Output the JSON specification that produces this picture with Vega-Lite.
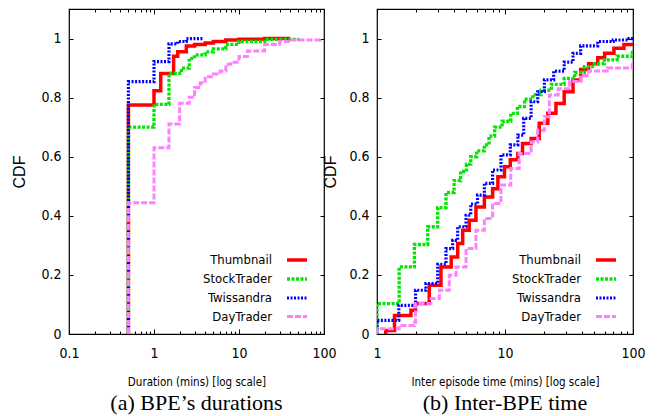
{
  "$schema": "https://vega.github.io/schema/vega-lite/v6.json",
  "background": "white",
  "padding": {"left": 11, "top": 7, "right": 5, "bottom": 2},
  "config": {
    "view": {"stroke": "black", "strokeWidth": 1.2},
    "axis": {"grid": false, "domain": false, "labelFont": "DejaVu Sans Condensed, Liberation Sans", "labelFontSize": 14, "labelColor": "black", "tickColor": "black", "tickWidth": 1, "titleFont": "DejaVu Sans Condensed, Liberation Sans", "titleFontSize": 11.5, "titleFontWeight": "normal", "titleColor": "black", "labelOverlap": false, "labelFlush": false},
    "axisY": {"minExtent": 0},
    "legend": {"orient": "bottom-right", "offset": 10, "padding": 0, "labelFont": "DejaVu Sans Condensed, Liberation Sans", "labelFontSize": 13, "labelColor": "black", "symbolType": "M-1,0H1", "symbolSize": 400, "labelAlign": "right", "labelOffset": -37, "rowPadding": 0},
    "title": {"font": "Liberation Serif", "fontSize": 22, "fontWeight": "normal", "color": "black", "orient": "bottom", "anchor": "middle", "offset": 5}
  },
  "datasets": {
    "a": [
      {"series": "Thumbnail", "x": 0.5, "y": 0}, {"series": "Thumbnail", "x": 0.5, "y": 0.775}, {"series": "Thumbnail", "x": 1, "y": 0.823}, {"series": "Thumbnail", "x": 1.2, "y": 0.882}, {"series": "Thumbnail", "x": 1.7, "y": 0.94}, {"series": "Thumbnail", "x": 1.9, "y": 0.955}, {"series": "Thumbnail", "x": 2.4, "y": 0.975}, {"series": "Thumbnail", "x": 3, "y": 0.98}, {"series": "Thumbnail", "x": 4, "y": 0.985}, {"series": "Thumbnail", "x": 5, "y": 0.99}, {"series": "Thumbnail", "x": 7, "y": 0.995}, {"series": "Thumbnail", "x": 10, "y": 0.998}, {"series": "Thumbnail", "x": 20, "y": 1.0}, {"series": "Thumbnail", "x": 40, "y": 1.0},
      {"series": "StockTrader", "x": 0.5, "y": 0}, {"series": "StockTrader", "x": 0.5, "y": 0.70}, {"series": "StockTrader", "x": 1, "y": 0.777}, {"series": "StockTrader", "x": 1.5, "y": 0.882}, {"series": "StockTrader", "x": 2.1, "y": 0.9}, {"series": "StockTrader", "x": 2.6, "y": 0.933}, {"series": "StockTrader", "x": 3, "y": 0.945}, {"series": "StockTrader", "x": 4, "y": 0.955}, {"series": "StockTrader", "x": 5, "y": 0.965}, {"series": "StockTrader", "x": 7, "y": 0.98}, {"series": "StockTrader", "x": 10, "y": 0.99}, {"series": "StockTrader", "x": 20, "y": 0.997}, {"series": "StockTrader", "x": 50, "y": 1.0},
      {"series": "Twissandra", "x": 0.5, "y": 0}, {"series": "Twissandra", "x": 0.5, "y": 0.854}, {"series": "Twissandra", "x": 1, "y": 0.922}, {"series": "Twissandra", "x": 1.5, "y": 0.982}, {"series": "Twissandra", "x": 1.9, "y": 0.99}, {"series": "Twissandra", "x": 2.4, "y": 1.0}, {"series": "Twissandra", "x": 3.8, "y": 1.0},
      {"series": "DayTrader", "x": 0.5, "y": 0}, {"series": "DayTrader", "x": 0.5, "y": 0.444}, {"series": "DayTrader", "x": 1, "y": 0.63}, {"series": "DayTrader", "x": 1.5, "y": 0.711}, {"series": "DayTrader", "x": 2, "y": 0.781}, {"series": "DayTrader", "x": 2.6, "y": 0.801}, {"series": "DayTrader", "x": 3, "y": 0.834}, {"series": "DayTrader", "x": 3.5, "y": 0.85}, {"series": "DayTrader", "x": 4, "y": 0.871}, {"series": "DayTrader", "x": 5, "y": 0.88}, {"series": "DayTrader", "x": 6, "y": 0.89}, {"series": "DayTrader", "x": 7, "y": 0.913}, {"series": "DayTrader", "x": 8, "y": 0.92}, {"series": "DayTrader", "x": 10, "y": 0.939}, {"series": "DayTrader", "x": 12.6, "y": 0.958}, {"series": "DayTrader", "x": 20, "y": 0.98}, {"series": "DayTrader", "x": 30, "y": 0.99}, {"series": "DayTrader", "x": 40, "y": 0.995}, {"series": "DayTrader", "x": 90, "y": 1.0}
    ],
    "b": [
      {"series": "Thumbnail", "x": 1.17, "y": 0.0}, {"series": "Thumbnail", "x": 1.17, "y": 0.012}, {"series": "Thumbnail", "x": 1.37, "y": 0.063}, {"series": "Thumbnail", "x": 1.84, "y": 0.08}, {"series": "Thumbnail", "x": 2.0, "y": 0.103}, {"series": "Thumbnail", "x": 2.56, "y": 0.165}, {"series": "Thumbnail", "x": 3.16, "y": 0.227}, {"series": "Thumbnail", "x": 3.8, "y": 0.261}, {"series": "Thumbnail", "x": 4.27, "y": 0.306}, {"series": "Thumbnail", "x": 4.67, "y": 0.351}, {"series": "Thumbnail", "x": 5.26, "y": 0.385}, {"series": "Thumbnail", "x": 5.93, "y": 0.43}, {"series": "Thumbnail", "x": 6.9, "y": 0.464}, {"series": "Thumbnail", "x": 8.0, "y": 0.492}, {"series": "Thumbnail", "x": 8.8, "y": 0.532}, {"series": "Thumbnail", "x": 9.9, "y": 0.566}, {"series": "Thumbnail", "x": 11, "y": 0.59}, {"series": "Thumbnail", "x": 12.6, "y": 0.611}, {"series": "Thumbnail", "x": 13.7, "y": 0.645}, {"series": "Thumbnail", "x": 16, "y": 0.662}, {"series": "Thumbnail", "x": 18.5, "y": 0.713}, {"series": "Thumbnail", "x": 21.6, "y": 0.747}, {"series": "Thumbnail", "x": 25, "y": 0.78}, {"series": "Thumbnail", "x": 29, "y": 0.82}, {"series": "Thumbnail", "x": 34, "y": 0.86}, {"series": "Thumbnail", "x": 39, "y": 0.895}, {"series": "Thumbnail", "x": 45, "y": 0.915}, {"series": "Thumbnail", "x": 53, "y": 0.935}, {"series": "Thumbnail", "x": 60, "y": 0.95}, {"series": "Thumbnail", "x": 71, "y": 0.967}, {"series": "Thumbnail", "x": 85, "y": 0.98}, {"series": "Thumbnail", "x": 100, "y": 0.982},
      {"series": "StockTrader", "x": 1, "y": 0}, {"series": "StockTrader", "x": 1, "y": 0.103}, {"series": "StockTrader", "x": 1.49, "y": 0.227}, {"series": "StockTrader", "x": 1.96, "y": 0.303}, {"series": "StockTrader", "x": 2.49, "y": 0.363}, {"series": "StockTrader", "x": 2.98, "y": 0.428}, {"series": "StockTrader", "x": 3.46, "y": 0.479}, {"series": "StockTrader", "x": 4.0, "y": 0.519}, {"series": "StockTrader", "x": 4.5, "y": 0.55}, {"series": "StockTrader", "x": 5.0, "y": 0.575}, {"series": "StockTrader", "x": 5.4, "y": 0.6}, {"series": "StockTrader", "x": 6.0, "y": 0.62}, {"series": "StockTrader", "x": 6.9, "y": 0.64}, {"series": "StockTrader", "x": 7.5, "y": 0.67}, {"series": "StockTrader", "x": 8.3, "y": 0.7}, {"series": "StockTrader", "x": 9.5, "y": 0.72}, {"series": "StockTrader", "x": 11.1, "y": 0.747}, {"series": "StockTrader", "x": 12.5, "y": 0.77}, {"series": "StockTrader", "x": 14.2, "y": 0.795}, {"series": "StockTrader", "x": 16.5, "y": 0.81}, {"series": "StockTrader", "x": 19.1, "y": 0.825}, {"series": "StockTrader", "x": 23, "y": 0.845}, {"series": "StockTrader", "x": 29, "y": 0.865}, {"series": "StockTrader", "x": 35, "y": 0.885}, {"series": "StockTrader", "x": 41.7, "y": 0.905}, {"series": "StockTrader", "x": 50, "y": 0.915}, {"series": "StockTrader", "x": 59.7, "y": 0.928}, {"series": "StockTrader", "x": 75, "y": 0.94}, {"series": "StockTrader", "x": 99, "y": 0.952}, {"series": "StockTrader", "x": 100, "y": 0.952},
      {"series": "Twissandra", "x": 1, "y": 0}, {"series": "Twissandra", "x": 1, "y": 0.046}, {"series": "Twissandra", "x": 1.48, "y": 0.097}, {"series": "Twissandra", "x": 2.0, "y": 0.148}, {"series": "Twissandra", "x": 2.41, "y": 0.171}, {"series": "Twissandra", "x": 2.98, "y": 0.236}, {"series": "Twissandra", "x": 3.46, "y": 0.289}, {"series": "Twissandra", "x": 3.9, "y": 0.317}, {"series": "Twissandra", "x": 4.27, "y": 0.363}, {"series": "Twissandra", "x": 4.96, "y": 0.402}, {"series": "Twissandra", "x": 5.4, "y": 0.44}, {"series": "Twissandra", "x": 6.1, "y": 0.47}, {"series": "Twissandra", "x": 6.9, "y": 0.51}, {"series": "Twissandra", "x": 8.0, "y": 0.555}, {"series": "Twissandra", "x": 9.3, "y": 0.606}, {"series": "Twissandra", "x": 11, "y": 0.64}, {"series": "Twissandra", "x": 12.6, "y": 0.673}, {"series": "Twissandra", "x": 14, "y": 0.73}, {"series": "Twissandra", "x": 16, "y": 0.786}, {"series": "Twissandra", "x": 18, "y": 0.82}, {"series": "Twissandra", "x": 20.3, "y": 0.86}, {"series": "Twissandra", "x": 24, "y": 0.89}, {"series": "Twissandra", "x": 29, "y": 0.92}, {"series": "Twissandra", "x": 34, "y": 0.95}, {"series": "Twissandra", "x": 39, "y": 0.975}, {"series": "Twissandra", "x": 53, "y": 0.99}, {"series": "Twissandra", "x": 70, "y": 0.995}, {"series": "Twissandra", "x": 93, "y": 1.0}, {"series": "Twissandra", "x": 100, "y": 1.0},
      {"series": "DayTrader", "x": 1, "y": 0}, {"series": "DayTrader", "x": 1, "y": 0.018}, {"series": "DayTrader", "x": 1.49, "y": 0.029}, {"series": "DayTrader", "x": 1.96, "y": 0.04}, {"series": "DayTrader", "x": 2.0, "y": 0.103}, {"series": "DayTrader", "x": 2.64, "y": 0.12}, {"series": "DayTrader", "x": 3.07, "y": 0.148}, {"series": "DayTrader", "x": 3.67, "y": 0.199}, {"series": "DayTrader", "x": 4.14, "y": 0.227}, {"series": "DayTrader", "x": 4.96, "y": 0.289}, {"series": "DayTrader", "x": 5.93, "y": 0.351}, {"series": "DayTrader", "x": 6.9, "y": 0.391}, {"series": "DayTrader", "x": 8.0, "y": 0.442}, {"series": "DayTrader", "x": 9.3, "y": 0.504}, {"series": "DayTrader", "x": 11.1, "y": 0.56}, {"series": "DayTrader", "x": 12.9, "y": 0.611}, {"series": "DayTrader", "x": 16, "y": 0.65}, {"series": "DayTrader", "x": 18, "y": 0.69}, {"series": "DayTrader", "x": 20.3, "y": 0.735}, {"series": "DayTrader", "x": 22.2, "y": 0.809}, {"series": "DayTrader", "x": 26, "y": 0.83}, {"series": "DayTrader", "x": 32, "y": 0.855}, {"series": "DayTrader", "x": 39, "y": 0.875}, {"series": "DayTrader", "x": 45, "y": 0.89}, {"series": "DayTrader", "x": 63, "y": 0.9}, {"series": "DayTrader", "x": 99, "y": 0.911}, {"series": "DayTrader", "x": 100, "y": 0.911}
    ]
  },
  "spacing": 53,
  "bounds": "flush",
  "hconcat": [
    {
      "width": 255, "height": 325,
      "data": {"name": "a"},
      "title": {"text": "(a)  BPE’s durations"},
      "layer": [
        {
          "mark": {"type": "line", "interpolate": "step-after", "clip": true},
          "encoding": {
            "x": {"field": "x", "type": "quantitative", "scale": {"type": "log", "domain": [0.1, 100], "nice": false},
              "axis": {"title": "Duration (mins) [log scale]", "values": [0.1,0.2,0.3,0.4,0.5,0.6,0.7,0.8,0.9,1,2,3,4,5,6,7,8,9,10,20,30,40,50,60,70,80,90,100],
                "labelExpr": "indexof([0.1,1,10,100], datum.value) >= 0 ? datum.value : ''",
                "tickSize": {"condition": {"test": "indexof([0.1,1,10,100], datum.value) >= 0", "value": -5}, "value": -3},
                "labelPadding": 17, "titlePadding": 14}},
            "y": {"field": "y", "type": "quantitative", "scale": {"domain": [0, 1.1], "nice": false},
              "axis": {"title": "CDF", "titleFont": "Liberation Sans", "titleFontSize": 16, "values": [0,0.2,0.4,0.6,0.8,1], "labelExpr": "format(datum.value, '~g')", "tickSize": -4, "labelPadding": 12, "titlePadding": 13}},
            "color": {"field": "series", "type": "nominal", "title": null, "scale": {"domain": ["Thumbnail","StockTrader","Twissandra","DayTrader"], "range": ["#ff0000","#00e600","#0000ff","#ff80ff"]}},
            "strokeDash": {"field": "series", "type": "nominal", "title": null, "scale": {"domain": ["Thumbnail","StockTrader","Twissandra","DayTrader"], "range": [[1,0],[3,1.5],[2,1.5],[6,2]]}},
            "strokeWidth": {"field": "series", "type": "nominal", "title": null, "scale": {"domain": ["Thumbnail","StockTrader","Twissandra","DayTrader"], "range": [3.5,3,2,3.5]}},
            "order": {"field": "y", "type": "quantitative"}
          }
        },
        {
          "mark": {"type": "line", "opacity": 0},
          "encoding": {
            "x": {"field": "x", "type": "quantitative", "axis": {"orient": "top", "title": null, "labels": false, "values": [0.1,0.2,0.3,0.4,0.5,0.6,0.7,0.8,0.9,1,2,3,4,5,6,7,8,9,10,20,30,40,50,60,70,80,90,100],
                "tickSize": {"condition": {"test": "indexof([0.1,1,10,100], datum.value) >= 0", "value": -5}, "value": -3}}},
            "y": {"field": "y", "type": "quantitative", "axis": {"orient": "right", "title": null, "labels": false, "values": [0,0.2,0.4,0.6,0.8,1], "tickSize": -4}}
          }
        }
      ],
      "resolve": {"axis": {"x": "independent", "y": "independent"}}
    },
    {
      "width": 256, "height": 325,
      "data": {"name": "b"},
      "title": {"text": "(b)  Inter-BPE time"},
      "layer": [
        {
          "mark": {"type": "line", "interpolate": "step-after", "clip": true},
          "encoding": {
            "x": {"field": "x", "type": "quantitative", "scale": {"type": "log", "domain": [1, 100], "nice": false},
              "axis": {"title": "Inter episode time (mins) [log scale]", "values": [1,2,3,4,5,6,7,8,9,10,20,30,40,50,60,70,80,90,100],
                "labelExpr": "indexof([1,10,100], datum.value) >= 0 ? datum.value : ''",
                "tickSize": {"condition": {"test": "indexof([1,10,100], datum.value) >= 0", "value": -5}, "value": -3},
                "labelPadding": 17, "titlePadding": 14}},
            "y": {"field": "y", "type": "quantitative", "scale": {"domain": [0, 1.1], "nice": false},
              "axis": {"title": "CDF", "titleFont": "Liberation Sans", "titleFontSize": 16, "values": [0,0.2,0.4,0.6,0.8,1], "labelExpr": "format(datum.value, '~g')", "tickSize": -4, "labelPadding": 12, "titlePadding": 10}},
            "color": {"field": "series", "type": "nominal", "title": null, "scale": {"domain": ["Thumbnail","StockTrader","Twissandra","DayTrader"], "range": ["#ff0000","#00e600","#0000ff","#ff80ff"]}},
            "strokeDash": {"field": "series", "type": "nominal", "title": null, "scale": {"domain": ["Thumbnail","StockTrader","Twissandra","DayTrader"], "range": [[1,0],[3,1.5],[2,1.5],[6,2]]}},
            "strokeWidth": {"field": "series", "type": "nominal", "title": null, "scale": {"domain": ["Thumbnail","StockTrader","Twissandra","DayTrader"], "range": [3.5,3,2,3.5]}},
            "order": {"field": "y", "type": "quantitative"}
          }
        },
        {
          "mark": {"type": "line", "opacity": 0},
          "encoding": {
            "x": {"field": "x", "type": "quantitative", "axis": {"orient": "top", "title": null, "labels": false, "values": [1,2,3,4,5,6,7,8,9,10,20,30,40,50,60,70,80,90,100],
                "tickSize": {"condition": {"test": "indexof([1,10,100], datum.value) >= 0", "value": -5}, "value": -3}}},
            "y": {"field": "y", "type": "quantitative", "axis": {"orient": "right", "title": null, "labels": false, "values": [0,0.2,0.4,0.6,0.8,1], "tickSize": -4}}
          }
        }
      ],
      "resolve": {"axis": {"x": "independent", "y": "independent"}}
    }
  ],
  "resolve": {"scale": {"color": "independent", "strokeDash": "independent", "strokeWidth": "independent"}, "legend": {"color": "independent", "strokeDash": "independent", "strokeWidth": "independent"}}
}
